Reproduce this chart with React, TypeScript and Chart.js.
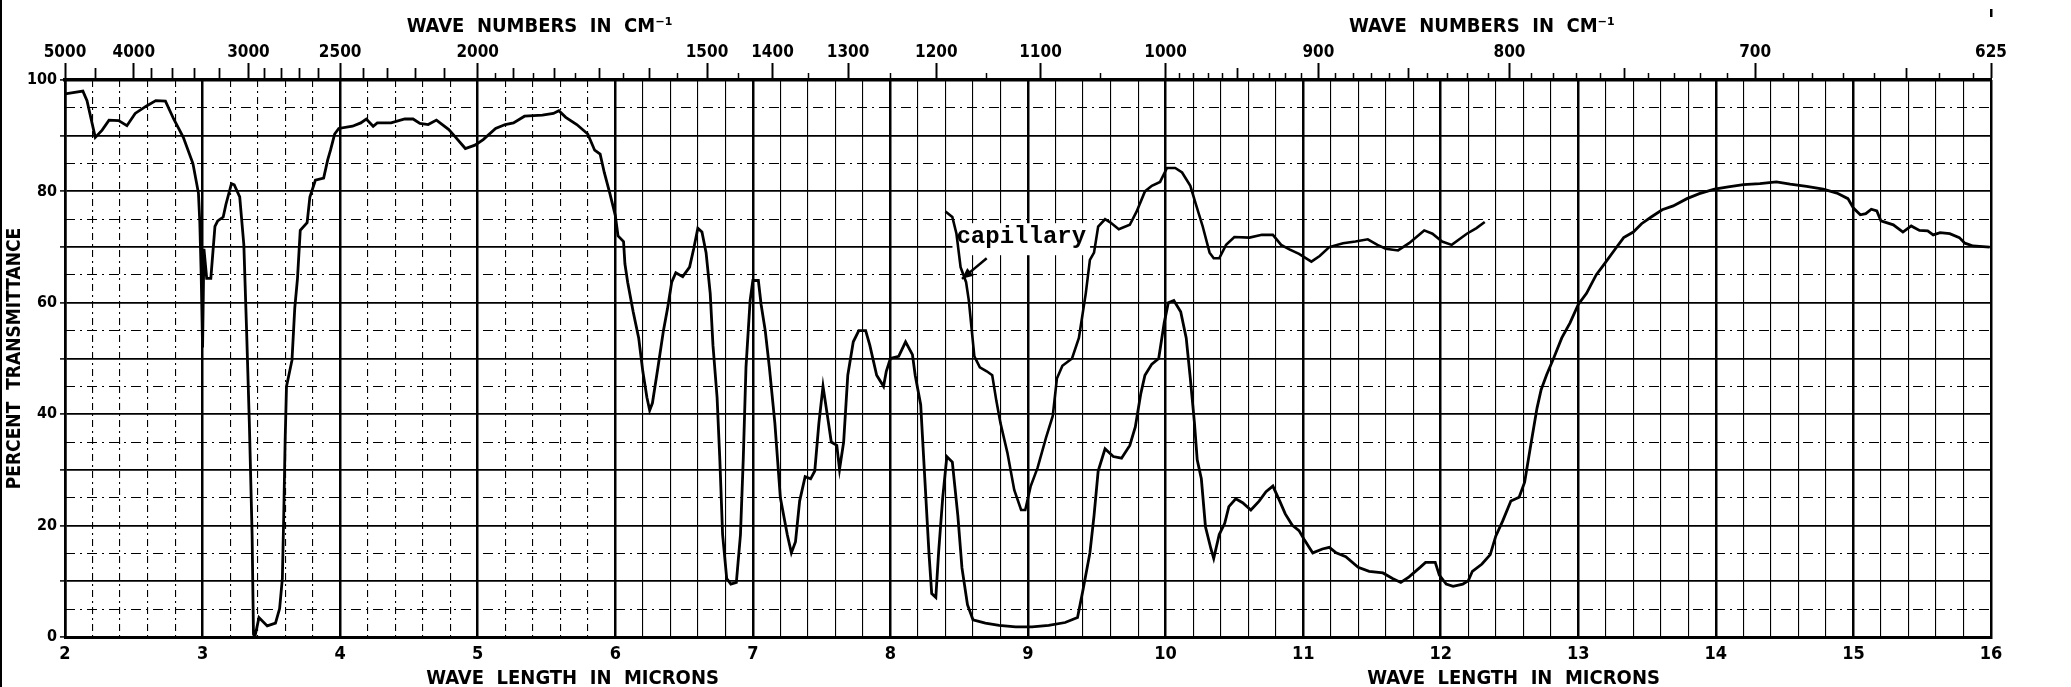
import React, { useEffect, useRef } from "react";
import { Chart, registerables } from "chart.js";

Chart.register(...registerables);

const LABEL_FONT = '"DejaVu Sans Condensed", "Liberation Sans Narrow", "DejaVu Sans", sans-serif';
const MONO_FONT = '"Liberation Mono", "DejaVu Sans Mono", monospace';

// ---- main spectrum (wavelength in microns, percent transmittance) ----
const mainWavelength = [
  2.0, 2.13, 2.16, 2.22, 2.27, 2.32, 2.39, 2.45, 2.51, 2.59, 2.66, 2.73, 2.79, 2.86, 2.93, 2.97, 2.98, 2.99,
  3.0, 3.01, 3.03, 3.06, 3.09, 3.11, 3.15, 3.17, 3.21, 3.23, 3.27, 3.3, 3.32, 3.34, 3.36, 3.37, 3.38, 3.41,
  3.47, 3.53, 3.56, 3.58, 3.59, 3.6, 3.61, 3.65, 3.67, 3.69, 3.71, 3.76, 3.78, 3.82, 3.88, 3.91, 3.93, 3.96,
  3.99, 4.09, 4.15, 4.19, 4.24, 4.27, 4.37, 4.47, 4.53, 4.58, 4.64, 4.7, 4.79, 4.84, 4.91, 4.98, 5.04, 5.13,
  5.2, 5.26, 5.34, 5.47, 5.55, 5.59, 5.64, 5.72, 5.8, 5.85, 5.89, 5.92, 5.96, 6.0, 6.02, 6.06, 6.07, 6.09,
  6.13, 6.17, 6.2, 6.23, 6.25, 6.27, 6.31, 6.35, 6.38, 6.41, 6.44, 6.49, 6.54, 6.57, 6.6, 6.63, 6.66, 6.69,
  6.71, 6.74, 6.76, 6.78, 6.81, 6.84, 6.88, 6.91, 6.93, 6.95, 6.98, 7.0, 7.04, 7.06, 7.09, 7.12, 7.16, 7.2,
  7.25, 7.28, 7.31, 7.34, 7.38, 7.42, 7.45, 7.48, 7.51, 7.55, 7.57, 7.61, 7.63, 7.66, 7.69, 7.73, 7.77, 7.82,
  7.85, 7.9, 7.95, 7.97, 8.0, 8.06, 8.11, 8.16, 8.18, 8.22, 8.25, 8.28, 8.3, 8.33, 8.35, 8.38, 8.41, 8.45,
  8.49, 8.52, 8.56, 8.6, 8.69, 8.79, 8.91, 9.03, 9.15, 9.27, 9.36, 9.4, 9.45, 9.48, 9.51, 9.56, 9.62, 9.68,
  9.74, 9.78, 9.82, 9.85, 9.9, 9.95, 9.99, 10.02, 10.06, 10.11, 10.15, 10.18, 10.21, 10.23, 10.26, 10.29, 10.33, 10.35,
  10.39, 10.43, 10.46, 10.51, 10.56, 10.62, 10.68, 10.73, 10.78, 10.83, 10.87, 10.92, 10.97, 11.01, 11.07, 11.14, 11.19, 11.24,
  11.31, 11.4, 11.48, 11.58, 11.65, 11.71, 11.77, 11.85, 11.89, 11.96, 11.99, 12.04, 12.09, 12.16, 12.2, 12.23, 12.3, 12.36,
  12.4, 12.45, 12.51, 12.57, 12.61, 12.65, 12.7, 12.73, 12.77, 12.82, 12.88, 12.94, 13.0, 13.06, 13.13, 13.19, 13.27, 13.33,
  13.4, 13.46, 13.53, 13.61, 13.69, 13.79, 13.88, 13.99, 14.09, 14.2, 14.32, 14.44, 14.54, 14.66, 14.78, 14.88, 14.96, 15.0,
  15.05, 15.09, 15.13, 15.17, 15.2, 15.29, 15.36, 15.42, 15.48, 15.54, 15.58, 15.63, 15.7, 15.77, 15.81, 15.87, 15.99,
];
const mainTransmittance = [
  97.5, 98.0, 96.3, 89.7, 91.0, 92.8, 92.7, 91.8, 94.0, 95.3, 96.3, 96.2, 93.0, 89.7, 85.0, 79.7, 74.4, 65.0,
  52.0, 69.7, 64.4, 64.4, 73.7, 74.7, 75.4, 77.7, 81.4, 81.2, 79.0, 70.4, 55.0, 38.4, 18.4, 0.5, 0.0, 3.5,
  2.0, 2.5, 5.1, 10.5, 21.8, 35.0, 45.0, 49.7, 59.0, 64.4, 73.0, 74.4, 79.0, 82.0, 82.4, 85.7, 87.4, 90.3,
  91.3, 91.7, 92.3, 93.0, 91.7, 92.3, 92.3, 93.0, 93.0, 92.2, 92.0, 92.8, 91.1, 89.7, 87.7, 88.3, 89.3, 91.3,
  92.0, 92.3, 93.5, 93.7, 94.0, 94.5, 93.3, 92.0, 90.3, 87.4, 86.7, 83.4, 79.7, 75.7, 72.0, 71.0, 67.0, 63.7,
  58.4, 53.7, 47.7, 43.0, 40.7, 42.0, 48.4, 55.0, 59.0, 63.7, 65.4, 64.7, 66.4, 69.7, 73.4, 72.7, 69.0, 61.7,
  52.4, 43.0, 31.8, 18.4, 10.5, 9.5, 9.8, 18.4, 31.8, 48.4, 60.4, 64.0, 64.0, 59.7, 55.0, 48.4, 38.4, 25.0,
  18.4, 15.1, 17.1, 24.4, 28.8, 28.4, 29.8, 38.4, 45.0, 38.4, 35.0, 34.4, 30.1, 35.0, 47.0, 53.0, 55.0, 55.0,
  52.4, 47.0, 45.0, 47.7, 50.0, 50.4, 53.0, 50.7, 47.0, 41.7, 28.4, 15.1, 7.8, 7.1, 15.1, 25.0, 32.4, 31.4,
  21.8, 12.4, 5.8, 3.1, 2.5, 2.1, 1.8, 1.8, 2.1, 2.6, 3.5, 8.5, 15.1, 21.8, 29.8, 33.8, 32.4, 32.1,
  34.4, 37.7, 43.7, 47.0, 49.0, 50.0, 56.4, 60.0, 60.4, 58.4, 53.7, 46.4, 38.4, 31.8, 28.4, 19.8, 15.8, 14.1,
  18.4, 20.4, 23.4, 24.8, 24.1, 22.8, 24.4, 26.1, 27.1, 24.4, 22.1, 20.1, 19.1, 17.4, 15.1, 15.8, 16.1, 15.1,
  14.4, 12.5, 11.8, 11.5, 10.5, 9.8, 10.8, 12.5, 13.4, 13.4, 11.1, 9.5, 9.1, 9.5, 10.1, 11.8, 13.1, 14.8,
  18.1, 20.8, 24.4, 25.1, 27.8, 33.8, 41.1, 44.4, 47.1, 50.0, 53.7, 56.4, 59.7, 61.7, 65.0, 67.0, 69.7, 71.7,
  72.7, 74.2, 75.4, 76.7, 77.4, 78.7, 79.6, 80.4, 80.8, 81.2, 81.4, 81.7, 81.3, 80.9, 80.4, 79.7, 78.7, 77.0,
  75.8, 76.0, 76.8, 76.5, 74.7, 74.0, 72.7, 73.8, 73.0, 72.9, 72.2, 72.6, 72.4, 71.7, 70.7, 70.2, 70.0,
];

// ---- capillary trace ----
const capillaryWavelength = [
  8.4, 8.45, 8.48, 8.51, 8.55, 8.57, 8.61, 8.65, 8.7, 8.74, 8.77, 8.8, 8.85, 8.9, 8.95, 8.98, 9.02, 9.07,
  9.13, 9.18, 9.21, 9.25, 9.32, 9.37, 9.42, 9.45, 9.48, 9.51, 9.56, 9.6, 9.66, 9.74, 9.79, 9.85, 9.9, 9.96,
  10.01, 10.07, 10.12, 10.18, 10.22, 10.27, 10.32, 10.35, 10.39, 10.44, 10.5, 10.61, 10.7, 10.78, 10.84, 10.9,
  10.97, 11.06, 11.12, 11.19, 11.29, 11.38, 11.47, 11.54, 11.6, 11.69, 11.77, 11.88, 11.94, 12.01, 12.08, 12.19,
  12.26, 12.32,
];
const capillaryTransmittance = [
  76.4, 75.4, 72.4, 66.4, 63.7, 60.4, 50.4, 48.4, 47.7, 47.0, 42.4, 38.4, 33.1, 26.4, 22.8, 22.8, 27.1, 30.4,
  35.7, 39.7, 46.4, 48.7, 50.0, 53.7, 61.7, 67.7, 69.0, 73.7, 75.0, 74.4, 73.2, 74.0, 76.4, 80.0, 81.0, 81.7,
  84.2, 84.2, 83.4, 81.0, 77.7, 73.7, 69.0, 68.0, 68.0, 70.4, 71.8, 71.7, 72.2, 72.2, 70.4, 69.6,
  68.8, 67.4, 68.4, 70.0, 70.7, 71.0, 71.4, 70.4, 69.7, 69.4, 70.7, 73.0, 72.4, 71.0, 70.4, 72.4,
  73.4, 74.5,
];

// ---- axes ----
const wavelengthTicks = [2, 3, 4, 5, 6, 7, 8, 9, 10, 11, 12, 13, 14, 15, 16];
const percentLines = [0, 10, 20, 30, 40, 50, 60, 70, 80, 90, 100];
const percentLabelled = [0, 20, 40, 60, 80, 100];
const percentHalfLines = [5, 15, 25, 35, 45, 55, 65, 75, 85, 95];
const wavenumberLabels = [5000, 4000, 3000, 2500, 2000, 1500, 1400, 1300, 1200, 1100, 1000, 900, 800, 700, 625];
const wavenumberMid = [
  4500, 3800, 3600, 3400, 3200, 2900, 2800, 2700, 2600, 2400, 2300, 2200, 2100,
  1900, 1800, 1700, 1600, 950, 850, 750, 650,
];
const wavenumberShort = [
  1950, 1850, 1750, 1650, 1550, 1450, 1350, 1250, 1150, 1050,
  990, 980, 970, 960, 940, 930, 920, 910, 890, 880, 870, 860, 840, 830, 820, 810,
  790, 780, 770, 760, 740, 730, 720, 710, 690, 680, 670, 660, 640, 630,
];
const minorGridStep = 0.2;
const dashedRegionEnd = 6;

// ---- texts ----
const topTitle = "WAVE  NUMBERS  IN  CM\u207B\u00B9";
const bottomTitle = "WAVE  LENGTH  IN  MICRONS";
const yTitle = "PERCENT  TRANSMITTANCE";
const topTitleAt = [5.45, 12.3];
const bottomTitleAt = [5.69, 12.53];
const capillaryLabel = "capillary";
const capillaryLabelAt = [8.48, 70.7];
const capillaryArrowFrom = [8.7, 68.0];
const capillaryArrowTo = [8.52, 64.3];

const toPoints = (xs: number[], ys: number[]) => xs.map((x, i) => ({ x, y: ys[i] }));
const wnToMicron = (wn: number) => 10000 / wn;

function minorWavelengths(): number[] {
  const out: number[] = [];
  const n = Math.round((16 - 2) / minorGridStep);
  for (let k = 1; k < n; k++) {
    const v = +(2 + k * minorGridStep).toFixed(4);
    if (Math.abs(v - Math.round(v)) > 1e-6) out.push(v);
  }
  return out;
}

const annotationPlugin = {
  id: "irAnnotations",
  beforeDatasetsDraw(chart: any) {
    const { ctx } = chart;
    const xs = chart.scales.x;
    const ys = chart.scales.y;
    ctx.save();
    ctx.font = `bold 24px ${MONO_FONT}`;
    const tx = xs.getPixelForValue(capillaryLabelAt[0]);
    const ty = ys.getPixelForValue(capillaryLabelAt[1]);
    const w = ctx.measureText(capillaryLabel).width;
    ctx.fillStyle = "#fff";
    ctx.fillRect(tx - 4, ty - 20, w + 8, 32);
    ctx.fillStyle = "#000";
    ctx.textAlign = "left";
    ctx.textBaseline = "alphabetic";
    ctx.fillText(capillaryLabel, tx, ty);
    // arrow
    const ax0 = xs.getPixelForValue(capillaryArrowFrom[0]);
    const ay0 = ys.getPixelForValue(capillaryArrowFrom[1]);
    const ax1 = xs.getPixelForValue(capillaryArrowTo[0]);
    const ay1 = ys.getPixelForValue(capillaryArrowTo[1]);
    ctx.strokeStyle = "#000";
    ctx.lineWidth = 2.5;
    ctx.beginPath();
    ctx.moveTo(ax0, ay0);
    ctx.lineTo(ax1, ay1);
    ctx.stroke();
    const ang = Math.atan2(ay1 - ay0, ax1 - ax0);
    const hl = 11, hw = 5;
    ctx.beginPath();
    ctx.moveTo(ax1, ay1);
    ctx.lineTo(ax1 - hl * Math.cos(ang) + hw * Math.sin(ang), ay1 - hl * Math.sin(ang) - hw * Math.cos(ang));
    ctx.lineTo(ax1 - hl * Math.cos(ang) - hw * Math.sin(ang), ay1 - hl * Math.sin(ang) + hw * Math.cos(ang));
    ctx.closePath();
    ctx.fill();
    ctx.restore();
  },
  afterDraw(chart: any) {
    const { ctx, chartArea } = chart;
    const xs = chart.scales.x;
    ctx.save();
    ctx.fillStyle = "#000";
    ctx.textAlign = "center";
    ctx.textBaseline = "middle";
    ctx.font = `bold 20px ${LABEL_FONT}`;
    topTitleAt.forEach((v) => ctx.fillText(topTitle, xs.getPixelForValue(v), chartArea.top - 53));
    bottomTitleAt.forEach((v) => ctx.fillText(bottomTitle, xs.getPixelForValue(v), chartArea.bottom + 42));
    // scan edge and corner mark
    ctx.fillRect(0, 0, 2, chart.height);
    ctx.fillRect(xs.getPixelForValue(16) - 1, 9, 2.5, 8);
    ctx.restore();
  },
};

export default function App() {
  const ref = useRef<HTMLCanvasElement | null>(null);

  useEffect(() => {
    if (!ref.current) return;
    const minors = minorWavelengths();
    const zeroH = (s: any) => { s.height = 0; };
    const zeroW = (s: any) => { s.width = 0; };
    const chart = new Chart(ref.current, {
      type: "line",
      data: {
        datasets: [
          {
            label: "spectrum",
            data: toPoints(mainWavelength, mainTransmittance),
            borderColor: "#000",
            borderWidth: 2.8,
            pointRadius: 0,
            tension: 0,
            xAxisID: "x",
            yAxisID: "y",
          },
          {
            label: "capillary",
            data: toPoints(capillaryWavelength, capillaryTransmittance),
            borderColor: "#000",
            borderWidth: 2.6,
            pointRadius: 0,
            tension: 0,
            xAxisID: "x",
            yAxisID: "y",
          },
        ],
      },
      options: {
        responsive: false,
        animation: false,
        devicePixelRatio: 1,
        layout: { padding: { left: 0, right: 80, top: 0, bottom: 0 } },
        plugins: { legend: { display: false }, tooltip: { enabled: false } },
        scales: {
          x: {
            type: "linear",
            position: "bottom",
            weight: 10,
            min: 2,
            max: 16,
            afterBuildTicks: (s: any) => { s.ticks = wavelengthTicks.map((v) => ({ value: v })); },
            afterFit: (s: any) => { s.height = 50; },
            ticks: {
              autoSkip: false,
              maxRotation: 0,
              minRotation: 0,
              padding: 7,
              color: "#000",
              font: { family: LABEL_FONT, size: 18, weight: "bold" },
              callback: (v: any) => String(v),
            },
            grid: { color: "#000", lineWidth: 2.5, drawTicks: false },
            border: { color: "#000", width: 3 },
          },
          xMinorDash: {
            type: "linear",
            position: "bottom",
            weight: 0,
            min: 2,
            max: 16,
            afterBuildTicks: (s: any) => { s.ticks = minors.filter((v) => v < dashedRegionEnd).map((v) => ({ value: v })); },
            afterFit: zeroH,
            ticks: { display: false },
            grid: { color: "#000", lineWidth: 1.1, drawTicks: false },
            border: { display: false, dash: [7, 4, 2, 4] },
          },
          xMinorSolid: {
            type: "linear",
            position: "bottom",
            weight: 1,
            min: 2,
            max: 16,
            afterBuildTicks: (s: any) => { s.ticks = minors.filter((v) => v > dashedRegionEnd).map((v) => ({ value: v })); },
            afterFit: zeroH,
            ticks: { display: false },
            grid: { color: "#000", lineWidth: 1.1, drawTicks: false },
            border: { display: false },
          },
          xTop: {
            type: "linear",
            position: "top",
            weight: 10,
            min: 2,
            max: 16,
            afterBuildTicks: (s: any) => { s.ticks = wavenumberLabels.map((w) => ({ value: wnToMicron(w) })); },
            afterFit: (s: any) => { s.height = 80; },
            ticks: {
              autoSkip: false,
              maxRotation: 0,
              minRotation: 0,
              padding: 0,
              color: "#000",
              font: { family: LABEL_FONT, size: 17, weight: "bold" },
              callback: (_v: any, i: number) => String(wavenumberLabels[i]),
            },
            grid: { drawOnChartArea: false, tickLength: 17, tickWidth: 2, tickColor: "#000" },
            border: { color: "#000", width: 3.5 },
          },
          xTopMid: {
            type: "linear",
            position: "top",
            weight: 1,
            min: 2,
            max: 16,
            afterBuildTicks: (s: any) => { s.ticks = wavenumberMid.map((w) => ({ value: wnToMicron(w) })); },
            afterFit: zeroH,
            ticks: { display: false },
            grid: { drawOnChartArea: false, tickLength: 12, tickWidth: 1.8, tickColor: "#000" },
            border: { display: false },
          },
          xTopShort: {
            type: "linear",
            position: "top",
            weight: 0,
            min: 2,
            max: 16,
            afterBuildTicks: (s: any) => { s.ticks = wavenumberShort.map((w) => ({ value: wnToMicron(w) })); },
            afterFit: zeroH,
            ticks: { display: false },
            grid: { drawOnChartArea: false, tickLength: 7, tickWidth: 1.5, tickColor: "#000" },
            border: { display: false },
          },
          y: {
            type: "linear",
            position: "left",
            weight: 10,
            min: 0,
            max: 100,
            afterBuildTicks: (s: any) => { s.ticks = percentLines.map((v) => ({ value: v })); },
            afterFit: (s: any) => { s.width = 65; },
            ticks: {
              padding: 3,
              color: "#000",
              font: { family: LABEL_FONT, size: 16, weight: "bold" },
              callback: (v: any) => (percentLabelled.includes(v) ? String(v) : ""),
            },
            grid: { color: "#000", lineWidth: 1.8, tickLength: 5, tickWidth: 1.5, tickColor: "#000" },
            border: { color: "#000", width: 2.5 },
            title: {
              display: true,
              text: yTitle,
              color: "#000",
              font: { family: LABEL_FONT, size: 19, weight: "bold" },
              padding: { top: 4, bottom: 0 },
            },
          },
          yHalf: {
            type: "linear",
            position: "left",
            weight: 0,
            min: 0,
            max: 100,
            afterBuildTicks: (s: any) => { s.ticks = percentHalfLines.map((v) => ({ value: v })); },
            afterFit: zeroW,
            ticks: { display: false },
            grid: { color: "#000", lineWidth: 1.1, drawTicks: false },
            border: { display: false, dash: [10, 5, 2, 5] },
          },
        },
      } as any,
      plugins: [annotationPlugin],
    });
    return () => chart.destroy();
  }, []);

  return (
    <div style={{ position: "absolute", left: 0, top: 0, width: 2071, height: 687, background: "#fff" }}>
      <canvas ref={ref} width={2071} height={687} style={{ display: "block", width: 2071, height: 687 }} />
    </div>
  );
}
